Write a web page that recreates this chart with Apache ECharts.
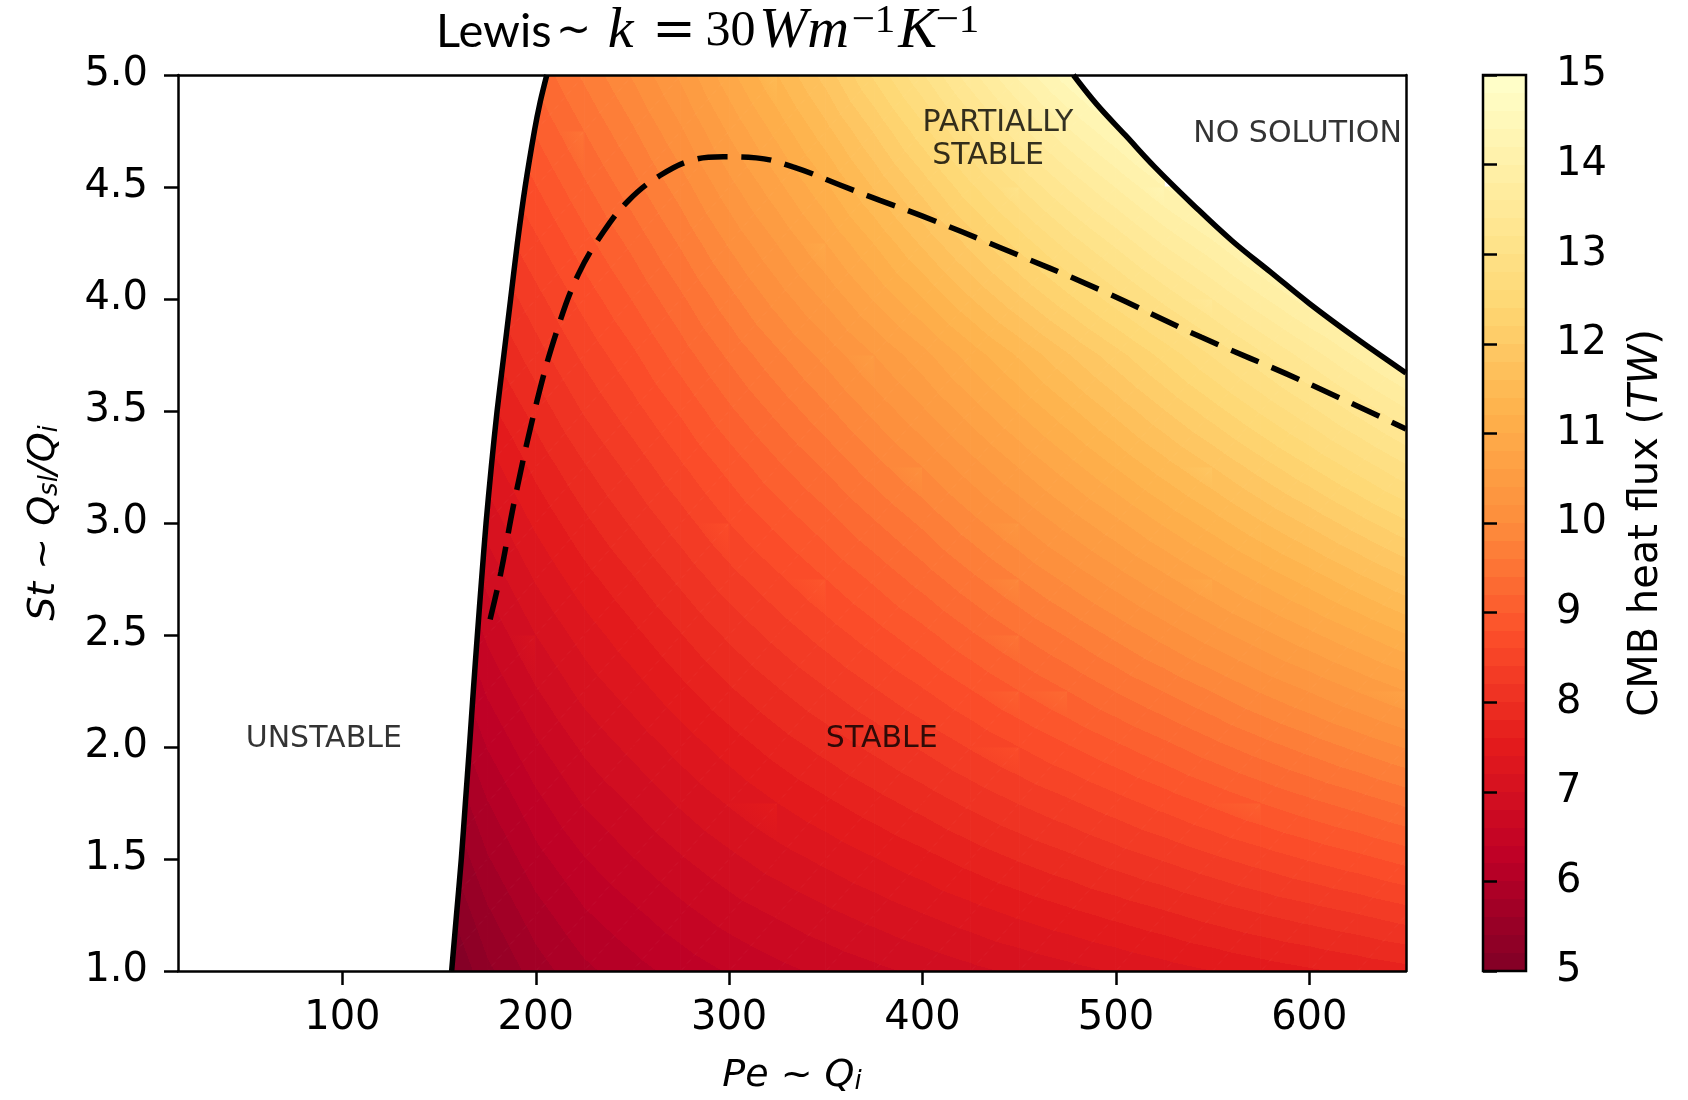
<!DOCTYPE html>
<html><head><meta charset="utf-8">
<script src="https://cdn.jsdelivr.net/npm/echarts@6/dist/echarts.min.js"></script>
<style>html,body{margin:0;padding:0;background:#fff}#c{width:1688px;height:1100px}</style>
</head><body><div id="c"></div>
<script>
// ---------------- data ----------------
const peValues = [150,175,200,225,250,275,300,325,350,375,400,425,450,475,500,525,550,575,600,625,650];
const stValues = [1.0,1.25,1.5,1.75,2.0,2.25,2.5,2.75,3.0,3.25,3.5,3.75,4.0,4.25,4.5,4.75,5.0];
// CMB heat flux (TW), one row per St value, one column per Pe value
const heatFlux = [
  [4.85,5.35,5.70,5.95,6.12,6.28,6.42,6.54,6.65,6.75,6.85,6.95,7.04,7.13,7.22,7.31,7.40,7.49,7.57,7.65,7.73],
  [5.06,5.56,5.91,6.17,6.35,6.53,6.69,6.82,6.95,7.07,7.19,7.31,7.43,7.54,7.65,7.76,7.88,7.99,8.09,8.19,8.30],
  [5.28,5.78,6.13,6.39,6.59,6.78,6.95,7.11,7.25,7.39,7.53,7.68,7.82,7.95,8.09,8.22,8.36,8.49,8.62,8.74,8.87],
  [5.49,5.99,6.34,6.62,6.82,7.03,7.22,7.40,7.56,7.72,7.88,8.05,8.21,8.36,8.52,8.68,8.84,9.00,9.15,9.29,9.44],
  [5.71,6.21,6.56,6.84,7.06,7.28,7.49,7.69,7.87,8.05,8.23,8.42,8.60,8.78,8.96,9.14,9.33,9.51,9.68,9.85,10.02],
  [5.92,6.43,6.78,7.07,7.30,7.54,7.77,7.98,8.18,8.38,8.58,8.79,9.00,9.20,9.41,9.61,9.81,10.02,10.21,10.41,10.60],
  [6.14,6.64,7.00,7.29,7.54,7.79,8.04,8.27,8.49,8.71,8.93,9.17,9.40,9.62,9.85,10.08,10.31,10.53,10.75,10.97,11.19],
  [6.36,6.86,7.22,7.52,7.78,8.05,8.32,8.56,8.80,9.04,9.29,9.55,9.80,10.05,10.30,10.55,10.80,11.05,11.29,11.54,11.78],
  [6.58,7.08,7.44,7.75,8.03,8.31,8.60,8.86,9.11,9.38,9.64,9.93,10.20,10.48,10.75,11.03,11.30,11.58,11.84,12.11,12.37],
  [6.80,7.30,7.66,7.98,8.27,8.57,8.87,9.16,9.43,9.72,10.00,10.31,10.61,10.91,11.21,11.51,11.80,12.10,12.39,12.68,12.97],
  [null,7.53,7.88,8.22,8.52,8.83,9.16,9.46,9.75,10.06,10.37,10.70,11.02,11.34,11.66,11.99,12.31,12.63,12.94,13.26,13.57],
  [null,7.75,8.11,8.45,8.76,9.10,9.44,9.76,10.07,10.40,10.73,11.09,11.43,11.78,12.12,12.47,12.82,13.16,13.50,13.84,14.17],
  [null,7.97,8.33,8.68,9.01,9.36,9.73,10.09,10.44,10.82,11.19,11.59,11.97,12.34,12.70,13.06,13.40,13.76,14.11,14.42,14.78],
  [null,8.20,8.56,8.92,9.26,9.63,10.03,10.41,10.80,11.21,11.64,12.07,12.48,12.88,13.25,13.63,13.97,14.35,14.71,null,null],
  [null,8.42,8.79,9.16,9.52,9.90,10.33,10.74,11.16,11.62,12.08,12.56,13.00,13.42,13.81,14.20,14.55,14.94,null,null,null],
  [null,8.65,9.02,9.40,9.77,10.17,10.63,11.07,11.53,12.02,12.53,13.04,13.53,13.97,14.37,14.78,null,null,null,null,null],
  [null,8.88,9.25,9.64,10.02,10.44,10.93,11.40,11.89,12.44,12.98,13.53,14.05,14.52,14.94,15.00,null,null,null,null,null]
];
// stability boundary (solid, left): [Pe, St]
const unstableBoundary = [[156.5,1.0],[159,1.25],[161.5,1.5],[163.6,1.75],[165.7,2.0],[167.7,2.25],[169.8,2.5],[172,2.75],[174.3,3.0],[177,3.25],[180,3.5],[183.5,3.75],[187,4.0],[190.5,4.25],[194.5,4.5],[199.3,4.75],[202.3,4.88],[205.7,5.0]];
// no-solution boundary (solid, upper right)
const noSolutionBoundary = [[478,5.0],[490,4.87],[505,4.73],[520,4.59],[540,4.42],[560,4.26],[580,4.12],[600,3.98],[625,3.82],[650,3.67]];
// partial-stability boundary (dashed)
const partialBoundary = [[176.4,2.57],[182,2.78],[189,3.1],[200.5,3.54],[211,3.86],[222,4.11],[235,4.3],[248,4.44],[264,4.55],[281,4.62],[297,4.635],[314,4.63],[333,4.59],[357,4.51],[378,4.44],[400,4.37],[440,4.23],[492,4.04],[544,3.83],[595,3.64],[650,3.42]];
const xTickValues = [100,200,300,400,500,600];
const regionLabels = [
  {text:'UNSTABLE', pe:50, st:2.0},
  {text:'STABLE', pe:350, st:2.0},
  {text:'PARTIALLY', pe:400, st:4.75},
  {text:'STABLE', pe:405, st:4.6},
  {text:'NO SOLUTION', pe:540, st:4.7}
];
const colorbarRange = [5, 15];

// ---------------- scales / styles ----------------
const X_MIN = 15, X_MAX = 650, Y_MIN = 1, Y_MAX = 5;
const CMAP = ['#800026','#bd0026','#e31a1c','#fc4e2a','#fd8d3c','#feb24c','#fed976','#ffeda0','#ffffcc'];
const LEVEL_STEP = 0.2;
const CMAP_RGB = CMAP.map(h => [parseInt(h.slice(1,3),16),parseInt(h.slice(3,5),16),parseInt(h.slice(5,7),16)]);
const VMIN = colorbarRange[0], VMAX = colorbarRange[1];
const NLEV = Math.round((VMAX - VMIN) / LEVEL_STEP);
function cmap(v){
  let t = (v - VMIN) / (VMAX - VMIN); t = Math.max(0, Math.min(1, t));
  const s = t * (CMAP.length - 1); const k = Math.min(Math.floor(s), CMAP.length - 2); const f = s - k;
  const a = CMAP_RGB[k], b = CMAP_RGB[k+1];
  return 'rgb(' + Math.round(a[0]+(b[0]-a[0])*f) + ',' + Math.round(a[1]+(b[1]-a[1])*f) + ',' + Math.round(a[2]+(b[2]-a[2])*f) + ')';
}
function bandColor(v){
  let k = Math.floor((v - VMIN) / LEVEL_STEP + 1e-9);
  k = Math.max(0, Math.min(NLEV - 1, k));
  return cmap(VMIN + (k + 0.5) * LEVEL_STEP);
}
function bandStops(lo, hi){
  const stops = [{offset:0, color:bandColor(lo)}];
  let k = Math.floor((lo - VMIN) / LEVEL_STEP) + 1;
  for (;; k++){
    const b = VMIN + k * LEVEL_STEP;
    if (b >= hi - 1e-9) break;
    if (b <= lo + 1e-9) continue;
    const t = (b - lo) / (hi - lo);
    stops.push({offset:t, color:bandColor(b - 1e-6)});
    stops.push({offset:t, color:bandColor(b + 1e-6)});
  }
  stops.push({offset:1, color:bandColor(hi)});
  return stops;
}
function triFill(p, v){
  const dx2=p[1][0]-p[0][0], dy2=p[1][1]-p[0][1], dv2=v[1]-v[0];
  const dx3=p[2][0]-p[0][0], dy3=p[2][1]-p[0][1], dv3=v[2]-v[0];
  const det = dx2*dy3 - dx3*dy2;
  const lo = Math.min(v[0],v[1],v[2]), hi = Math.max(v[0],v[1],v[2]);
  if (Math.abs(det) < 1e-9 || hi - lo < 1e-9) return bandColor((lo+hi)/2);
  const a = (dv2*dy3 - dv3*dy2)/det, b = (dx2*dv3 - dx3*dv2)/det;
  const g2 = a*a + b*b;
  const sx = p[0][0] + a*(lo - v[0])/g2, sy = p[0][1] + b*(lo - v[0])/g2;
  const ex = p[0][0] + a*(hi - v[0])/g2, ey = p[0][1] + b*(hi - v[0])/g2;
  return new echarts.graphic.LinearGradient(sx, sy, ex, ey, bandStops(lo, hi), true);
}

// cells built from the grid arrays
const fieldData = [];
for (let j = 0; j < stValues.length - 1; j++){
  for (let i = 0; i < peValues.length - 1; i++){
    const c = [heatFlux[j][i], heatFlux[j][i+1], heatFlux[j+1][i+1], heatFlux[j+1][i]];
    if (c.some(x => x === null)) continue;
    fieldData.push([peValues[i], stValues[j], heatFlux[j][i], i, j]);
  }
}

function renderField(params, api){
  const i = api.value(3), j = api.value(4);
  const pts = [[peValues[i],stValues[j]],[peValues[i+1],stValues[j]],[peValues[i+1],stValues[j+1]],[peValues[i],stValues[j+1]]].map(q => api.coord(q));
  const vals = [heatFlux[j][i], heatFlux[j][i+1], heatFlux[j+1][i+1], heatFlux[j+1][i]];
  const f1 = triFill([pts[0],pts[1],pts[2]], [vals[0],vals[1],vals[2]]);
  const f2 = triFill([pts[0],pts[2],pts[3]], [vals[0],vals[2],vals[3]]);
  return {type:'group', children:[
    {type:'polygon', shape:{points:[pts[0],pts[1],pts[2]]}, style:{fill:f1, stroke:f1, lineWidth:1}},
    {type:'polygon', shape:{points:[pts[0],pts[2],pts[3]]}, style:{fill:f2, stroke:f2, lineWidth:1}}
  ]};
}
function renderMaskUnstable(params, api){
  const pts = [[X_MIN, Y_MIN]].concat(unstableBoundary, [[X_MIN, Y_MAX]]).map(q => api.coord(q));
  return {type:'polygon', shape:{points:pts}, style:{fill:'#fff', stroke:'#fff', lineWidth:1}};
}
function renderMaskNoSolution(params, api){
  const pts = noSolutionBoundary.concat([[X_MAX, Y_MAX]]).map(q => api.coord(q));
  return {type:'polygon', shape:{points:pts}, style:{fill:'#fff', stroke:'#fff', lineWidth:1}};
}
function renderColorbar(params, api){
  const p0 = api.coord([0, VMIN]), p1 = api.coord([1, VMAX]);
  const grad = new echarts.graphic.LinearGradient(p0[0], p0[1], p0[0], p1[1], bandStops(VMIN, VMAX), true);
  return {type:'group', children:[
    {type:'rect', shape:{x:p0[0], y:p1[1], width:p1[0]-p0[0], height:p0[1]-p1[1]}, style:{fill:grad}},
    {type:'rect', shape:{x:p0[0], y:p1[1], width:p1[0]-p0[0], height:p0[1]-p1[1]}, style:{fill:'none', stroke:'#000', lineWidth:2.5}}
  ]};
}

const FONT = 'DejaVu Sans';
const TICK_FS = 40;
const frameAxisLine = {show:true, onZero:false, lineStyle:{color:'#000', width:2.5}};
const TLH = 62;

const chart = echarts.init(document.getElementById('c'), null, {renderer:'canvas'});
chart.setOption({
  animation:false,
  backgroundColor:'#fff',
  title:{
    text:'{n|Lewis}{t|~}{m1|k}{eq|=}{u|30}{m2|Wm}{s1|\u22121}{m3|K}{s2|\u22121}',
    left:431, top:-4,
    textStyle:{
      fontWeight:'normal',
      rich:{
        n:{fontFamily:'Lato', fontWeight:'normal', fontSize:47, color:'#000', lineHeight:TLH},
        t:{fontFamily:'DejaVu Sans', fontWeight:'normal', fontSize:42, color:'#000', lineHeight:TLH, width:44, align:'center'},
        m1:{fontFamily:'Liberation Serif', fontStyle:'italic', fontWeight:'normal', fontSize:58, color:'#000', lineHeight:TLH, width:50, align:'center'},
        eq:{fontFamily:'DejaVu Serif', fontWeight:'normal', fontSize:52, color:'#000', lineHeight:TLH, width:57, align:'center'},
        u:{fontFamily:'Liberation Serif', fontWeight:'normal', fontSize:50, color:'#000', lineHeight:TLH, width:56, align:'center'},
        m2:{fontFamily:'Liberation Serif', fontStyle:'italic', fontWeight:'normal', fontSize:58, color:'#000', lineHeight:TLH, width:91, align:'center'},
        s1:{fontFamily:'Liberation Serif', fontWeight:'normal', fontSize:41, color:'#000', verticalAlign:'top', lineHeight:42, width:48, align:'center'},
        m3:{fontFamily:'Liberation Serif', fontStyle:'italic', fontWeight:'normal', fontSize:58, color:'#000', lineHeight:TLH, width:40, align:'center'},
        s2:{fontFamily:'Liberation Serif', fontWeight:'normal', fontSize:41, color:'#000', verticalAlign:'top', lineHeight:42, width:40, align:'center'}
      }
    }
  },
  grid:[
    {left:178, right:282, top:75, bottom:129, show:false, outerBoundsMode:'none', containLabel:false},
    {left:1483, right:162, top:75, bottom:129, show:false, outerBoundsMode:'none', containLabel:false}
  ],
  xAxis:[
    {type:'value', gridIndex:0, min:X_MIN, max:X_MAX, position:'bottom', z:10,
     axisLine:frameAxisLine,
     axisTick:{show:true, length:14, lineStyle:{color:'#000', width:2.5}, customValues:xTickValues},
     axisLabel:{show:true, margin:28, fontFamily:FONT, fontSize:TICK_FS, color:'#000', customValues:xTickValues},
     splitLine:{show:false},
     name:'{i|Pe}{n| ~ }{i|Q}{b|i}', nameLocation:'middle', nameGap:86,
     nameTextStyle:{rich:{
       i:{fontFamily:FONT, fontStyle:'italic', fontSize:38, color:'#000'},
       n:{fontFamily:FONT, fontSize:38, color:'#000'},
       b:{fontFamily:FONT, fontStyle:'italic', fontSize:26, color:'#000', verticalAlign:'bottom', padding:[12,0,0,0]}
     }}},
    {type:'value', gridIndex:0, min:X_MIN, max:X_MAX, position:'top', z:10,
     axisLine:frameAxisLine, axisTick:{show:false}, axisLabel:{show:false}, splitLine:{show:false}},
    {type:'value', gridIndex:1, min:0, max:1, show:false}
  ],
  yAxis:[
    {type:'value', gridIndex:0, min:Y_MIN, max:Y_MAX, interval:0.5, position:'left', z:10,
     axisLine:frameAxisLine,
     axisTick:{show:true, length:14, lineStyle:{color:'#000', width:2.5}},
     axisLabel:{show:true, margin:30, fontFamily:FONT, fontSize:TICK_FS, color:'#000', formatter:v => v.toFixed(1)},
     splitLine:{show:false},
     name:'{i|St}{n| ~ }{i|Q}{b|sl}{i|/Q}{b|i}', nameLocation:'middle', nameGap:115,
     nameTextStyle:{rich:{
       i:{fontFamily:FONT, fontStyle:'italic', fontSize:38, color:'#000'},
       n:{fontFamily:FONT, fontSize:38, color:'#000'},
       b:{fontFamily:FONT, fontStyle:'italic', fontSize:26, color:'#000', verticalAlign:'bottom', padding:[12,0,0,0]}
     }}},
    {type:'value', gridIndex:0, min:Y_MIN, max:Y_MAX, position:'right', z:10,
     axisLine:frameAxisLine, axisTick:{show:false}, axisLabel:{show:false}, splitLine:{show:false}},
    {type:'value', gridIndex:1, min:VMIN, max:VMAX, interval:1, position:'right', z:10,
     axisLine:{show:false},
     axisTick:{show:true, length:14, lineStyle:{color:'#000', width:2.5}},
     axisLabel:{show:true, margin:30, fontFamily:FONT, fontSize:TICK_FS, color:'#000'},
     splitLine:{show:false},
     name:'{n|CMB heat flux (}{i|TW}{n|)}', nameLocation:'middle', nameGap:101,
     nameTextStyle:{rich:{
       n:{fontFamily:FONT, fontSize:40, color:'#000'},
       i:{fontFamily:FONT, fontStyle:'italic', fontSize:40, color:'#000'}
     }}}
  ],
  series:[
    {type:'custom', name:'CMB heat flux', coordinateSystem:'cartesian2d', xAxisIndex:0, yAxisIndex:0,
     encode:{x:0, y:1}, data:fieldData, renderItem:renderField, clip:true, silent:true, z:1},
    {type:'custom', name:'unstable', coordinateSystem:'cartesian2d', xAxisIndex:0, yAxisIndex:0,
     encode:{x:0, y:1}, data:[[X_MIN, Y_MIN]], renderItem:renderMaskUnstable, clip:true, silent:true, z:2},
    {type:'custom', name:'no solution', coordinateSystem:'cartesian2d', xAxisIndex:0, yAxisIndex:0,
     encode:{x:0, y:1}, data:[[X_MAX, Y_MAX]], renderItem:renderMaskNoSolution, clip:true, silent:true, z:2},
    {type:'line', name:'stability limit', xAxisIndex:0, yAxisIndex:0, data:unstableBoundary, showSymbol:false,
     smooth:0.3, lineStyle:{color:'#000', width:5.5}, clip:true, silent:true, z:3},
    {type:'line', name:'solution limit', xAxisIndex:0, yAxisIndex:0, data:noSolutionBoundary, showSymbol:false,
     smooth:0.4, lineStyle:{color:'#000', width:5.5}, clip:true, silent:true, z:3},
    {type:'line', name:'partial stability', xAxisIndex:0, yAxisIndex:0, data:partialBoundary, showSymbol:false,
     smooth:0.4, lineStyle:{color:'#000', width:5.5, type:[30,14]}, clip:true, silent:true, z:3},
    {type:'scatter', name:'labels', xAxisIndex:0, yAxisIndex:0, symbolSize:0, silent:true, z:4,
     data:regionLabels.map(r => ({value:[r.pe, r.st], label:{formatter:r.text}})),
     label:{show:true, position:[0,0], align:'left', verticalAlign:'bottom', offset:[0,7],
            fontFamily:FONT, fontSize:30, color:'#000'}},
    {type:'custom', name:'colorbar', coordinateSystem:'cartesian2d', xAxisIndex:2, yAxisIndex:2,
     encode:{x:0, y:1}, data:[[0, VMIN]], renderItem:renderColorbar, clip:false, silent:true, z:1}
  ]
});
</script>
</body></html>
